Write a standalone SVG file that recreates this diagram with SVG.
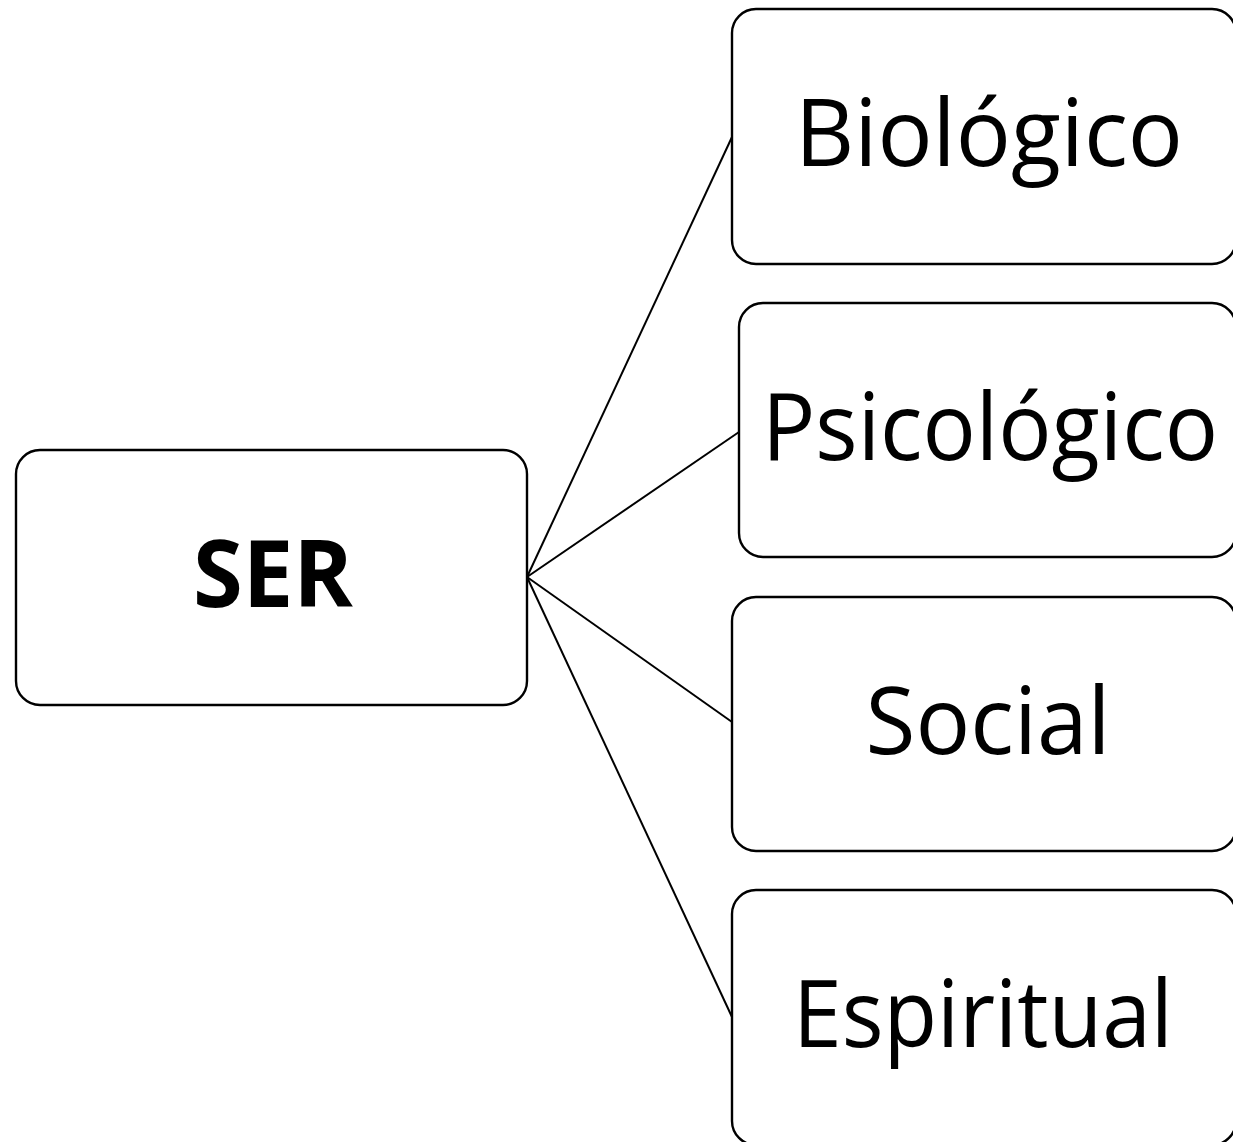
<svg xmlns="http://www.w3.org/2000/svg" width="1233" height="1142" viewBox="0 0 1233 1142">
<style>
.box{fill:#fff;stroke:#000;stroke-width:2.4}
.lbl{font-family:"Open Sans","Noto Sans","Liberation Sans",sans-serif;font-size:94px;fill:#000;text-anchor:middle}
.b{font-weight:bold}
.con line{stroke:#000;stroke-width:2}
</style>
<rect width="1233" height="1142" fill="#fff"/>
<g class="con" id="connectors">
<line x1="527" y1="577" x2="732" y2="137"/>
<line x1="527" y1="577" x2="739" y2="432"/>
<line x1="527" y1="577" x2="732" y2="722"/>
<line x1="527" y1="577" x2="732" y2="1017"/>
</g>
<g id="ser">
<rect class="box" x="16" y="450" width="511" height="255" rx="24"/>
<text class="lbl b" x="273" y="607" textLength="160" lengthAdjust="spacingAndGlyphs">SER</text>
</g>
<g id="biologico">
<rect class="box" x="732" y="9" width="504" height="255" rx="24"/>
<text class="lbl" x="989" y="166" textLength="388" lengthAdjust="spacingAndGlyphs">Biológico</text>
</g>
<g id="psicologico">
<rect class="box" x="739" y="303" width="497" height="254" rx="24"/>
<text class="lbl" x="990" y="460" textLength="456" lengthAdjust="spacingAndGlyphs">Psicológico</text>
</g>
<g id="social">
<rect class="box" x="732" y="597" width="504" height="254" rx="24"/>
<text class="lbl" x="988" y="754" textLength="245" lengthAdjust="spacingAndGlyphs">Social</text>
</g>
<g id="espiritual">
<rect class="box" x="732" y="890" width="504" height="255" rx="24"/>
<text class="lbl" x="983" y="1047" textLength="380" lengthAdjust="spacingAndGlyphs">Espiritual</text>
</g>
</svg>
